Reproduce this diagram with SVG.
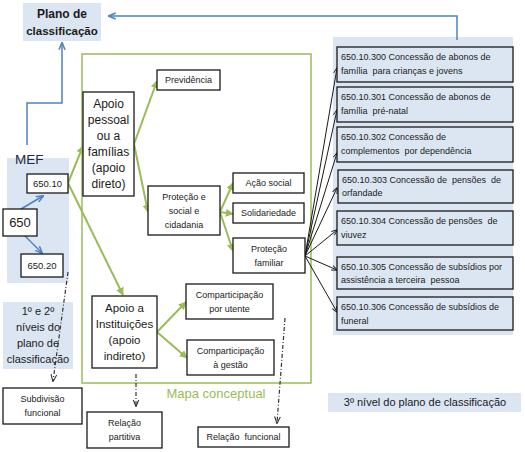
<svg xmlns="http://www.w3.org/2000/svg" width="525" height="452" viewBox="0 0 525 452">
<style>
text{font-family:"Liberation Sans",Arial,sans-serif;fill:#1a1a1a;text-anchor:middle}
.box{fill:#fff;stroke:#1a1a1a;stroke-width:1.3}
.ibox{fill:#dce6f2;stroke:#1a1a1a;stroke-width:1.3}
.panel{fill:#dce6f2;stroke:none}
.s9{font-size:9px}
.s12{font-size:12px}
.it{font-size:9px;text-anchor:start}
.g{fill:none;stroke:#9bbb59;stroke-width:2}
.b{fill:none;stroke:#4f81bd;stroke-width:1.5}
.k{fill:none;stroke:#1a1a1a;stroke-width:1}
.d{fill:none;stroke:#333;stroke-width:1.2;stroke-dasharray:4,2,1,2}
</style>
<defs>
<marker id="ag" viewBox="0 0 10 10" refX="9" refY="5" markerWidth="4" markerHeight="4" orient="auto"><path d="M0,0L10,5L0,10z" fill="#9bbb59"/></marker>
<marker id="ab" viewBox="0 0 10 10" refX="9" refY="5" markerWidth="5" markerHeight="5" orient="auto"><path d="M0,1L10,5L0,9" fill="none" stroke="#4f81bd" stroke-width="2"/></marker>
<marker id="ak" viewBox="0 0 10 10" refX="9" refY="5" markerWidth="6" markerHeight="6" orient="auto"><path d="M0,1L10,5L0,9" fill="none" stroke="#1a1a1a" stroke-width="1.5"/></marker>
<marker id="ad" viewBox="0 0 10 10" refX="9" refY="5" markerWidth="6" markerHeight="6" orient="auto"><path d="M0,1L10,5L0,9" fill="none" stroke="#333" stroke-width="1.5"/></marker>
</defs>

<!-- panels -->
<g id="panel-plano">
<rect class="panel" x="23" y="3" width="78" height="38"/>
<text x="62" y="18" style="font-size:12px;font-weight:bold">Plano de</text>
<text x="62" y="35" style="font-size:11.5px;font-weight:bold">classificação</text>
</g>
<g id="panel-mef">
<rect class="panel" x="7" y="158" width="62" height="125"/>
<text x="15" y="164" style="font-size:13.5px;fill:#1f2a44;text-anchor:start">MEF</text>
</g>
<g id="panel-niveis">
<rect class="panel" x="3" y="302" width="70" height="67"/>
<text x="38" y="315" style="font-size:11px">1º e 2º</text>
<text x="38" y="331" style="font-size:11px">níveis do</text>
<text x="38" y="347" style="font-size:11px">plano de</text>
<text x="38" y="363" style="font-size:11px">classificação</text>
</g>
<g id="panel-terceiro">
<rect class="panel" x="333" y="37" width="180" height="298"/>
</g>
<g id="panel-3nivel">
<rect class="panel" x="328" y="393" width="193" height="19"/>
<text x="425" y="406" style="font-size:11px">3º nível do plano de classificação</text>
</g>
<g id="mapa-conceptual">
<rect x="82" y="54" width="229" height="329" fill="none" stroke="#9bbb59" stroke-width="1.5"/>
<text x="216" y="398" style="font-size:13px;fill:#9bbb59">Mapa conceptual</text>
</g>

<!-- connectors -->
<g id="connectors">
<polyline class="b" points="457,40 457,16 109,16" marker-end="url(#ab)"/>
<polyline class="b" points="27,145 27,103 62,103 62,43" marker-end="url(#ab)"/>
<line class="b" x1="21" y1="209" x2="43" y2="196" marker-end="url(#ab)"/>
<line class="b" x1="25" y1="236" x2="42" y2="253" marker-end="url(#ab)"/>
<line class="g" x1="68" y1="183" x2="83" y2="146" marker-end="url(#ag)"/>
<line class="g" x1="68" y1="183" x2="123" y2="295" marker-end="url(#ag)"/>
<line class="g" x1="134" y1="144" x2="157" y2="81" marker-end="url(#ag)"/>
<line class="g" x1="134" y1="144" x2="148" y2="212" marker-end="url(#ag)"/>
<line class="g" x1="220" y1="212" x2="233" y2="183" marker-end="url(#ag)"/>
<line class="g" x1="220" y1="212" x2="233" y2="214" marker-end="url(#ag)"/>
<line class="g" x1="220" y1="212" x2="233" y2="251" marker-end="url(#ag)"/>
<line class="g" x1="157" y1="332" x2="186" y2="302" marker-end="url(#ag)"/>
<line class="g" x1="157" y1="332" x2="187" y2="358" marker-end="url(#ag)"/>
<line class="k" x1="305" y1="256" x2="337" y2="68" marker-end="url(#ak)"/>
<line class="k" x1="305" y1="256" x2="337" y2="110" marker-end="url(#ak)"/>
<line class="k" x1="305" y1="256" x2="337" y2="153" marker-end="url(#ak)"/>
<line class="k" x1="305" y1="256" x2="337" y2="188" marker-end="url(#ak)"/>
<line class="k" x1="305" y1="256" x2="337" y2="230" marker-end="url(#ak)"/>
<line class="k" x1="305" y1="256" x2="337" y2="270" marker-end="url(#ak)"/>
<line class="k" x1="305" y1="256" x2="337" y2="312" marker-end="url(#ak)"/>
<line class="d" x1="68" y1="272" x2="53" y2="381" marker-end="url(#ad)"/>
<line class="d" x1="136" y1="374" x2="136" y2="406" marker-end="url(#ad)"/>
<line class="d" x1="285" y1="318" x2="277" y2="423" marker-end="url(#ad)"/>
</g>

<!-- nodes -->
<g id="n650"><rect class="box" x="3" y="209" width="34" height="27"/><text x="20" y="227" style="font-size:13px">650</text></g>
<g id="n650-10"><rect class="box" x="27" y="174" width="41" height="19"/><text x="47.5" y="187" style="font-size:9.5px">650.10</text></g>
<g id="n650-20"><rect class="box" x="21" y="254" width="42" height="23"/><text x="42" y="269" style="font-size:9.5px">650.20</text></g>

<g id="apoio-pessoal"><rect class="box" x="83" y="92" width="51" height="104"/>
<text class="s12" x="108.5" y="108">Apoio</text>
<text class="s12" x="108.5" y="124">pessoal</text>
<text class="s12" x="108.5" y="140">ou a</text>
<text class="s12" x="108.5" y="156">famílias</text>
<text class="s12" x="108.5" y="172">(apoio</text>
<text class="s12" x="108.5" y="188">direto)</text></g>

<g id="apoio-instituicoes"><rect class="box" x="92" y="296" width="65" height="72"/>
<text x="124.5" y="312" style="font-size:11.5px">Apoio a</text>
<text x="124.5" y="328" style="font-size:11.5px">Instituições</text>
<text x="124.5" y="344" style="font-size:11.5px">(apoio</text>
<text x="124.5" y="360" style="font-size:11.5px">indireto)</text></g>

<g id="previdencia"><rect class="box" x="157" y="70" width="63" height="20"/><text class="s9" x="188.5" y="83">Previdência</text></g>
<g id="protecao-social"><rect class="box" x="148" y="186" width="72" height="49"/>
<text class="s9" x="184" y="200">Proteção e</text>
<text class="s9" x="184" y="214">social e</text>
<text class="s9" x="184" y="228">cidadania</text></g>
<g id="acao-social"><rect class="box" x="233" y="173" width="71" height="20"/><text class="s9" x="268.5" y="186">Ação social</text></g>
<g id="solidariedade"><rect class="box" x="233" y="203" width="71" height="20"/><text class="s9" x="268.5" y="216">Solidariedade</text></g>
<g id="protecao-familiar"><rect class="box" x="233" y="238" width="72" height="35"/>
<text class="s9" x="269" y="252">Proteção</text>
<text class="s9" x="269" y="266">familiar</text></g>
<g id="comp-utente"><rect class="box" x="186" y="284" width="87" height="35"/>
<text class="s9" x="229.5" y="298">Comparticipação</text>
<text class="s9" x="229.5" y="312">por utente</text></g>
<g id="comp-gestao"><rect class="box" x="187" y="340" width="87" height="35"/>
<text class="s9" x="230.5" y="354">Comparticipação</text>
<text class="s9" x="230.5" y="368">à gestão</text></g>

<g id="subdivisao"><rect class="box" x="3" y="388" width="79" height="36"/>
<text class="s9" x="42.5" y="402">Subdivisão</text>
<text class="s9" x="42.5" y="416">funcional</text></g>
<g id="relacao-partitiva"><rect class="box" x="87" y="412" width="75" height="36"/>
<text class="s9" x="124.5" y="426">Relação</text>
<text class="s9" x="124.5" y="440">partitiva</text></g>
<g id="relacao-funcional"><rect class="box" x="198" y="427" width="91" height="20"/>
<text class="s9" x="243.5" y="440" xml:space="preserve">Relação  funcional</text></g>

<g id="i300"><rect class="ibox" x="337" y="47" width="176" height="35"/>
<text class="it" x="341" y="60">650.10.300 Concessão de abonos de</text>
<text class="it" x="341" y="74" xml:space="preserve">família  para crianças e jovens</text></g>
<g id="i301"><rect class="ibox" x="337" y="87" width="176" height="35"/>
<text class="it" x="341" y="100">650.10.301 Concessão de abonos de</text>
<text class="it" x="341" y="114" xml:space="preserve">família  pré-natal</text></g>
<g id="i302"><rect class="ibox" x="337" y="127" width="176" height="35"/>
<text class="it" x="341" y="140">650.10.302 Concessão de</text>
<text class="it" x="341" y="154" xml:space="preserve">complementos  por dependência</text></g>
<g id="i303"><rect class="ibox" x="338" y="170" width="175" height="33"/>
<text class="it" x="342" y="183" xml:space="preserve">650.10.303 Concessão de  pensões  de</text>
<text class="it" x="342" y="196">orfandade</text></g>
<g id="i304"><rect class="ibox" x="337" y="211" width="176" height="34"/>
<text class="it" x="341" y="224" xml:space="preserve">650.10.304 Concessão de pensões  de</text>
<text class="it" x="341" y="238">viuvez</text></g>
<g id="i305"><rect class="ibox" x="337" y="257" width="176" height="32"/>
<text class="it" x="341" y="270">650.10.305 Concessão de subsídios por</text>
<text class="it" x="341" y="283" xml:space="preserve">assistência a terceira  pessoa</text></g>
<g id="i306"><rect class="ibox" x="337" y="297" width="176" height="33"/>
<text class="it" x="341" y="310">650.10.306 Concessão de subsídios de</text>
<text class="it" x="341" y="324">funeral</text></g>
</svg>
